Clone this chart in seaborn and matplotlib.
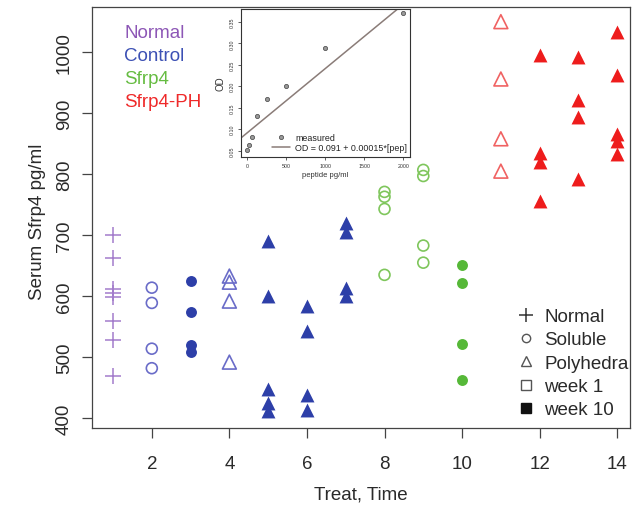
import pandas as pd
import seaborn as sns
import matplotlib.pyplot as plt
from matplotlib.lines import Line2D

# serum Sfrp4 readings per treatment/time column
normal_treat = [1, 1, 1, 1, 1, 1, 1, 1]
normal_value = [700, 663, 612, 605, 598, 560, 529, 470]

control_treat = [2, 2, 2, 2, 3, 3, 3, 3, 4, 4, 4, 4,
                 5, 5, 5, 5, 5, 6, 6, 6, 6, 7, 7, 7, 7]
control_value = [614, 589, 514, 482, 625, 574, 520, 509, 633, 623, 592, 492,
                 691, 601, 448, 425, 412, 584, 543, 438, 414, 720, 705, 614, 600]

sfrp4_treat = [8, 8, 8, 8, 9, 9, 9, 9, 10, 10, 10, 10]
sfrp4_value = [771, 763, 743, 635, 807, 797, 683, 655, 651, 622, 522, 463]

ph_treat = [11, 11, 11, 11, 12, 12, 12, 12, 13, 13, 13, 13, 14, 14, 14, 14, 14]
ph_value = [1050, 956, 858, 805, 996, 835, 820, 756, 992, 922, 894, 792,
            1033, 963, 866, 854, 833]

# preparation / week for each treat column
form_by_treat = {1: "Normal", 2: "Soluble", 3: "Soluble", 4: "Polyhedra", 5: "Polyhedra",
                 6: "Polyhedra", 7: "Polyhedra", 8: "Soluble", 9: "Soluble", 10: "Soluble",
                 11: "Polyhedra", 12: "Polyhedra", 13: "Polyhedra", 14: "Polyhedra"}
week_by_treat = {1: 0, 2: 1, 3: 10, 4: 1, 5: 10, 6: 10, 7: 10, 8: 1, 9: 1, 10: 10,
                 11: 1, 12: 10, 13: 10, 14: 10}

# standard curve for the inset
pep_conc = [0, 31.25, 62.5, 125, 250, 500, 1000, 2000]
od_measured = [0.052, 0.062, 0.082, 0.131, 0.171, 0.200, 0.289, 0.371]
fit_intercept = 0.091
fit_slope = 0.00015

groups = ["Normal", "Control", "Sfrp4", "Sfrp4-PH"]
fill_col = {"Normal": "#a37ccb", "Control": "#2d3fa8", "Sfrp4": "#56b838", "Sfrp4-PH": "#ee1c1c"}
open_col = {"Normal": "#a37ccb", "Control": "#6a6cc8", "Sfrp4": "#7fc65c", "Sfrp4-PH": "#f06262"}
text_col = {"Normal": "#8d57b6", "Control": "#3c50b4", "Sfrp4": "#66bc42", "Sfrp4-PH": "#ef2a2a"}

frames = []
for g, t, v in [("Normal", normal_treat, normal_value), ("Control", control_treat, control_value),
                ("Sfrp4", sfrp4_treat, sfrp4_value), ("Sfrp4-PH", ph_treat, ph_value)]:
    frames.append(pd.DataFrame({"group": g, "treat": t, "value": v}))
df = pd.concat(frames, ignore_index=True)
df["form"] = df["treat"].map(form_by_treat)
df["week"] = df["treat"].map(week_by_treat)

sns.set_style("white")
plt.rcParams["font.family"] = ["Liberation Sans", "DejaVu Sans"]

fig = plt.figure(figsize=(6.34, 5.06), dpi=100)
ax = fig.add_axes([91.7 / 634, 1 - 429 / 506, (630 - 91.7) / 634, (429 - 8) / 506])

for (g, form, week), sub in df.groupby(["group", "form", "week"]):
    if form == "Normal":
        sns.scatterplot(data=sub, x="treat", y="value", ax=ax, marker="+", s=130,
                        color=fill_col[g], linewidth=1.1)
        continue
    mk = "o" if form == "Soluble" else "^"
    size = 62 if mk == "o" else 100
    if week == 1:
        sns.scatterplot(data=sub, x="treat", y="value", ax=ax, marker=mk, s=size,
                        facecolor="none", edgecolor=open_col[g], linewidth=1.2)
    else:
        sns.scatterplot(data=sub, x="treat", y="value", ax=ax, marker=mk, s=size,
                        color=fill_col[g], linewidth=0)

ax.set_xlim(0.45, 14.33)
ax.set_ylim(384, 1074)
ax.set_xticks([2, 4, 6, 8, 10, 12, 14])
ax.set_yticks([400, 500, 600, 700, 800, 900, 1000])
ax.tick_params(axis="both", direction="out", length=7.5, width=0.9, color="#444",
               labelsize=13.5, labelcolor="#2a2a2a", left=True, bottom=True)
ax.tick_params(axis="x", pad=12)
ax.tick_params(axis="y", pad=6)
for lab in ax.get_yticklabels():
    lab.set_rotation(90)
    lab.set_va("center")
for sp in ax.spines.values():
    sp.set_color("#444")
    sp.set_linewidth(0.9)
ax.set_xlabel("")
ax.set_ylabel("")
fig.text(361 / 634, 1 - 495 / 506, "Treat, Time", ha="center", va="center", fontsize=13.5, color="#2a2a2a")
fig.text(38 / 634, 1 - 222 / 506, "Serum Sfrp4 pg/ml", ha="center", va="center",
         rotation=90, fontsize=13.5, color="#2a2a2a")

# coloured group names, top left
for i, g in enumerate(groups):
    fig.text(124 / 634, 1 - (37.5 + 23.1 * i) / 506, g, ha="left", va="baseline",
             fontsize=13.5, color=text_col[g])

# symbol key, bottom right
handles = [
    Line2D([], [], ls="none", marker="+", color="#333", ms=10, mew=1.1, label="Normal"),
    Line2D([], [], ls="none", marker="o", mfc="none", mec="#555", ms=6, mew=1, label="Soluble"),
    Line2D([], [], ls="none", marker="^", mfc="none", mec="#555", ms=7, mew=1, label="Polyhedra"),
    Line2D([], [], ls="none", marker="s", mfc="none", mec="#555", ms=6.5, mew=1, label="week 1"),
    Line2D([], [], ls="none", marker="s", color="#111", ms=6.5, label="week 10"),
]
ax.legend(handles=handles, loc="upper left", bbox_to_anchor=(518 / 634, 1 - 309 / 506),
          bbox_transform=fig.transFigure, frameon=False, fontsize=13.5, handlelength=0.9,
          handletextpad=0.5, labelspacing=0.33, borderpad=0, borderaxespad=0, labelcolor="#2a2a2a")

# inset: standard curve
ax_in = fig.add_axes([241 / 634, 1 - 158 / 506, (410 - 241) / 634, (158 - 10) / 506])
ax_in.set_facecolor("white")
std = pd.DataFrame({"pep": pep_conc, "od": od_measured})
sns.scatterplot(data=std, x="pep", y="od", ax=ax_in, s=9, color="#9a9a9a",
                edgecolor="#555", linewidth=0.6)
line_x = [-100, 2200]
line_y = [fit_intercept + fit_slope * v for v in line_x]
sns.lineplot(x=line_x, y=line_y, ax=ax_in, color="#8a7c78", linewidth=1.1)
ax_in.set_xlim(-77, 2085)
ax_in.set_ylim(0.035, 0.380)
ax_in.set_xticks([0, 500, 1000, 1500, 2000])
ax_in.set_yticks([0.05, 0.10, 0.15, 0.20, 0.25, 0.30, 0.35])
ax_in.set_yticklabels(["0.05", "0.10", "0.15", "0.20", "0.25", "0.30", "0.35"])
ax_in.tick_params(axis="both", direction="out", length=2.5, width=0.6, color="#444",
                  labelsize=3.8, labelcolor="#333", pad=2, left=True, bottom=True)
for lab in ax_in.get_yticklabels():
    lab.set_rotation(90)
    lab.set_va("center")
for sp in ax_in.spines.values():
    sp.set_color("#333")
    sp.set_linewidth(0.8)
ax_in.set_xlabel("peptide pg/ml", fontsize=5.5, color="#333", labelpad=2)
ax_in.set_ylabel("OD", fontsize=7, color="#333", labelpad=3)
in_handles = [
    Line2D([], [], ls="none", marker="o", mfc="#9a9a9a", mec="#555", ms=3, mew=0.6, label="measured"),
    Line2D([], [], color="#8a7c78", lw=1.1, label="OD = 0.091 + 0.00015*[pep]"),
]
ax_in.legend(handles=in_handles, loc="lower right", bbox_to_anchor=(1.0, 0.015), frameon=False,
             fontsize=6.4, handlelength=2.0, handletextpad=0.6, labelspacing=0.15,
             borderpad=0.2, borderaxespad=0.1, labelcolor="#222")

fig.savefig("out.png", dpi=100)
